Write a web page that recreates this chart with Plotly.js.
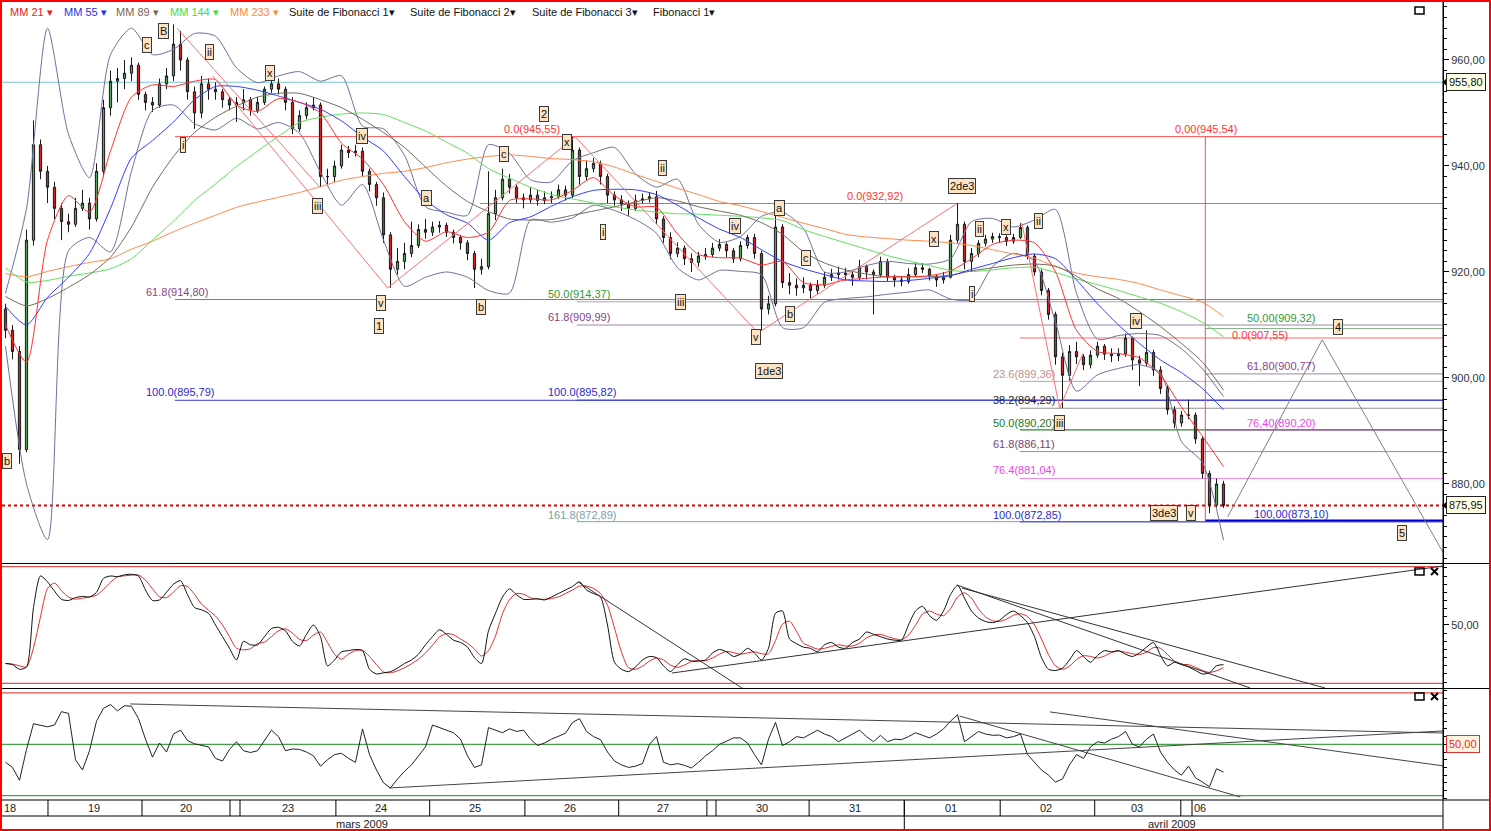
<!DOCTYPE html>
<html><head><meta charset="utf-8">
<script src="https://cdn.plot.ly/plotly-3.0.1.min.js"></script>
<style>
html,body{margin:0;padding:0;background:#fff;}
#chart{width:1487px;height:827px;border:2px solid #f00;}
</style></head><body><div id="chart"></div>
<script>
// ---------- DATA ----------
// 45-minute candles, bar index 0..174
const firstOpen = 913;
const closeP = [
909,905,886.5,926,944,939,936,932,929.5,929,
932,933,930,939,951,956,956.5,957.5,959,953.5,
952,951.5,955.5,957,963,960,954,950,955.5,954.5,
954,952.5,951.5,952,952.5,950.5,952,954.5,955.5,954.5,
952,947,949.5,951,951.5,938,938,940,943,942.5,
942.8,939,936.5,934,927,920.5,922,923.5,925,928,
927.5,928.5,928.8,927.5,926.5,925.5,923.5,920.5,921,931,
934,937.5,936,934,933.6,934.5,933.5,934,934.2,935.5,
934.5,943,938,939.5,940.5,938,934.5,933.6,932.8,932,
933.5,933.8,934.2,930,926.5,923.5,924.5,922.5,921.8,923,
923.3,924.5,925.2,924,922.5,925,926.5,923.5,913,914,
928.5,918,917.5,917,917.5,916.5,917.5,919,919.5,919.8,
919.5,919,921,920,919.5,922,919,918.5,918.2,919.5,
920.8,920.5,919.2,918.5,919,926,929,922,923.5,925.4,
926.2,926.7,926.5,925.8,926.5,928.4,923,920,916.5,912,
904,900.5,905,904,902.5,904.3,906,904.5,904.2,904.6,
907.5,903.4,902.8,904.8,901.5,898,894,891.5,893,893,
888.5,882,876,880,875.95];
const highP = [
914,910,906,928,948.6,945,940,937,933,931,
934,935.5,934,940.5,952.5,958,958.5,960,960.5,959.5,
954,953,956.5,958.5,966.7,965.5,960.5,955,957,956.5,
955.8,954.5,953,953,954.5,953,953,955,956.5,956.5,
955,953,950.5,952,953,952,939.5,941,944,943.8,
944,943.5,939.5,937,935,927.5,924.5,925.5,929.5,929,
930,929.5,929.6,929.3,928,927,926,924,922.5,939,
935.5,939.5,938.5,936.5,934.8,936,935.5,935.2,935.2,936.5,
936.3,945.5,943.5,941,941.5,941,938.5,935.2,934.5,933.5,
934.6,934.8,935,935.3,930.5,927.5,925.6,925,923.5,923.8,
924.5,925.5,926.2,925.6,924.5,925.8,927,927.2,924,915.5,
932.3,929,919.8,918.8,919,918,918.5,920,920.6,921,
920.8,920.2,922.3,921.4,920.5,922.9,922.5,919.5,919.2,920.7,
921.6,921.7,920.8,919.6,920,927,933,929.5,924.5,926,
927,927.4,927.3,926.9,927.2,929.2,928.8,923.4,920.5,917,
912.5,904.8,906.2,906.8,904.5,905.2,906.8,906.4,905.6,905.6,
908.4,907.8,904.2,909,905.3,902.2,898.6,894.7,893.8,895.9,
893.5,889,882.5,881,880.6];
const lowP = [
907.5,903.5,883.8,886,925,937.5,933,930,926,927.5,
928.5,931.5,928,929.5,938,949.5,952,954.5,956,952.5,
950.5,950.2,951,954.5,956,958,952.5,947,949,952.5,
952.5,951,950.5,948.3,950.5,949.5,950,951.5,953.8,953.5,
950.5,946,946.5,948.8,950.5,936,936.5,937,939.5,941.5,
941.8,938,935.2,932.5,925.5,917,919.5,920.5,922.8,924.5,
926.3,926.8,927.4,926.6,925.4,924.2,922.2,917,919.5,920.5,
929.8,933.5,934.8,933,932,933,932.5,932.8,933,933.8,
933.5,934,936.5,937.3,938.8,936.5,933,932.5,931.5,930.6,
931.5,932.9,933.1,929,925.5,922.4,922.8,921.3,920,921,
922.3,922.8,923.9,922.8,921.7,922,924.4,922.5,909,912,
913.5,917,915.8,915.5,916,915,915.8,917,918.3,918.6,
918.4,917.4,918.5,918.6,912,919,918.3,917.2,917.3,917.8,
919.2,919.8,918.4,917.2,917.8,918.8,925.5,920.5,920,922.8,
924.8,925.5,925.6,924.9,925.3,926.2,922.4,919.3,915.6,911,
902.5,894.3,899.5,902.6,901.5,901.8,903.8,903.4,903,903.2,
904,901.5,898.5,902.2,900.4,897,893.1,890.5,890.8,892.2,
887.6,881,874.5,875.5,875.5];

// moving averages and Bollinger bands, sampled every 3 bars
const MA_STEP = 3;
const ma21 = [910,903,926,934.4,931.3,942.8,953,955.3,955,956,
956.3,951.5,950.3,952.7,952,950,944.3,941.3,936.5,929.5,
925.8,927.6,926.5,927.5,933.5,933.8,933.6,935.4,937.8,934.4,
932.3,932.2,927.2,923.3,922.7,922.6,921.3,922,918,917.6,
918.5,918.8,919.1,919.1,919.3,920.2,922.5,925.2,926,925.5,
920,909,905,904.6,903.8,900.5,894.5,889,883.3];
const ma55 = [913.5,910,915.2,919,923.5,932,941.5,944.8,948.3,952.5,
955,955,954.3,953.2,952,950.7,948.5,945.5,942.8,938,
933.6,930.8,929.2,926,929.3,930.4,932.4,934.2,935.4,935.6,
935.5,934.6,932.6,930.2,928.1,926.5,924.2,922,920.6,919.5,
918.5,918.3,918.2,918.4,918.8,919.3,920.5,921.6,922.7,923.4,
922.5,918.5,914,910,906.5,903.4,901,898,894];
const ma89 = [915.4,913.6,915,917.1,919.5,922.8,928.5,936,941.8,946.3,
949.2,951.3,953,953.7,953.7,952.5,951,948.8,946.3,943.5,
939.8,936.2,933.3,931.4,930,929.8,929.9,930.7,931.5,932.3,
933.2,934,933.4,932.3,931.5,930.7,929.3,927.1,923.8,921.7,
920.4,919.6,919.1,919.1,919.1,919.4,920.2,920.8,921.3,921.5,
921.1,919.2,916.8,915,912.5,909.7,906.5,903,897.7];
const ma144 = [920.8,918.1,918.4,919.2,919.8,920.6,922.5,926,929.6,933.5,
936.6,939.9,942.8,945.6,948.2,949.2,949.8,950,949.7,948.2,
946.6,944.5,942.4,939.5,937.7,936,934.6,933.8,933,932.3,
931.7,931.3,931,930.9,930.7,930.5,930.2,929.7,928,926.7,
925.5,924.3,923.1,922.1,921.2,920.3,920.1,920.4,920.8,920.9,
919.9,918.7,917.6,916.5,915.3,914.1,912.5,910.5,907.8];
const ma233 = [919.7,919.1,920.1,921,921.8,922.5,924.3,925.8,927.6,929.2,
930.7,932.2,933.2,934.1,935,936.1,937.3,938,938.6,939,
939.7,940.6,941.3,941.8,942.1,941.8,941.4,941.2,940.8,939.8,
938.4,937.1,935.8,934.6,933.3,932.5,931.4,930.3,929.2,928.2,
927.1,926.6,926.3,926,925.8,925.5,925,924.2,923.4,922.6,
921,919.8,919.1,918.6,917.8,916.6,915.5,914.3,911.6];
const bbUp = [916,932,966,946,937.8,961,966,961,962,965,
964.5,958.5,955.7,957,957.8,956,957,947.5,947,942,
932.3,931.3,930.7,944,942.4,937.4,937,941,942.5,943.5,
938.5,936,937.5,929,925.6,926.7,930.5,931.3,928.2,920,
920,921.2,922,921.6,921.5,922.5,929.5,930.1,928.5,929.8,
931.8,916,907.3,908,908.4,908,905.5,901.7,896.5];
const bbLow = [906,880,869.5,924,926.5,923.8,939,950.5,951.5,948,
946.8,949,947,948.2,946.2,938.8,932.6,936.5,926,917.3,
919,920,919,916.5,916,929.8,929.4,930.2,932.6,931.6,
929.9,927.3,920.8,918.5,920.3,920.1,919.5,909.5,909.5,914.3,
915,915.3,915.8,916.2,916.6,914.9,914.8,921,923.5,922,
910.5,897.5,900.6,901.8,902.5,900.9,888,884,869.4];

// stochastic %K and RSI, one value per bar
const stochK = [17,16,12,14,65,92,87,79,72,71,
73.5,74.5,74,78,90,92,91.5,93,93.5,92,
80,71,71.5,78,85,88,76,65,63,60,
50,40,30,20,36,33,33,40,47,48,
45,36,32,42,50,40,15,20,27,28,
29,28,12,8,9,10,13,17,20,25,
33,40,46,42,37,35,31,22,17,45,
60,74,81,76,72,72,72.5,71.5,74,77,
80,83,87,80,77,74,50,18,12,10,
14,20,23,22,15,10,16,21,19,19,
20,26,29,27,23,25,30,26,20,30,
60,62,38,34,31,30,27,33,35,31,
30,35,38,44,42,40,38,37,37,50,
62,66,58,54,62,76,84,73,62,56,
53,52,54,59,62,58,52,40,22,12,
11,13,20,28,23,18,24,28,27,28,
25,23,26,31,35,24,15,18,16,14,
11,8,9,15,16];
const rsi = [43,41,36,48,58,57.5,56.8,57.5,62.7,62,
44,40,47.5,59,64,65.5,63,65,64.8,60,
52,45,50.5,47,54,55.5,51.5,50.2,49.5,49,
44.5,43.5,48,51,47.5,46.8,47.5,51.5,55.5,53,
47.5,48.2,48,47,45.5,41.5,44,46,46.5,44.5,
43,56,46,40,35,33,36.5,39.5,42,45.5,
49,57.5,56.5,55.5,54.5,52,45.5,41,42,56.5,
55.5,54.5,56,55,55.5,52,49.5,50.5,52,53,
54.3,58.5,60,55,53,51.8,47,43.5,42,41,
41.5,42.5,50,53,43,42,42.5,41.8,40.8,43,
45.5,47.5,50,51.2,52.5,52.5,50.5,46,42,52,
58.5,49.5,51,53,52.5,54,55.5,54,53,51,
52.5,54,55.5,53,51,53.5,51,52,51.8,53,
54.5,53.5,52.5,54,56,59,61.5,51,53,55,
54,53.5,53.6,52.5,53,54,46,43,40,38,
35.3,36.5,42,46,44.5,49,51,50.5,52,53,
55,50,49,52,54,47,43,40,38,41.5,
37,35.3,33.5,40.5,39.2];

// reference levels
const refLevel = 955.80;
const lastPrice = 875.95;

// Fibonacci levels: value, ratio text, start bar, label bar
const fibLevels = [945.55,914.80,895.79,865.04, 914.37,909.99,895.82,872.89, 932.92,
  907.55,899.36,894.29,890.20,886.11,881.04,872.85, 945.54,909.32,900.77,890.20,873.10];
const fibRatios = ['0.0','61.8','100.0','161.8', '50.0','61.8','100.0','161.8', '0.0',
  '0.0','23.6','38.2','50.0','61.8','76.4','100.0', '0,00','50,00','61,80','76,40','100,00'];
const fibStart = [24.2,24.2,24.2,24.2, 81.6,81.6,81.6,81.6, 67.8,
  144.9,144.9,144.9,144.9,144.9,144.9,144.9, 171.4,171.4,171.4,171.4,171.4];
const fibLabelX = [70.9,19.8,19.8,19.8, 77.2,77.2,77.2,77.2, 119.9,
  174.9,140.8,140.8,140.8,140.8,140.8,140.8, 166.8,177.1,177.1,177.1,178.1];
const fibTextColor = ['#ff3333','#884488','#2a2acc','#78a2a2', '#339933','#884488','#2a2acc','#78a2a2', '#ff3333',
  '#ff3333','#c09090','#222222','#227722','#774477','#ee44ee','#2a2acc', '#ff3333','#339933','#884488','#ee44ee','#2a2acc'];
const fibLineColor = ['#ff5a5a','#9966aa','#3a3ad8','#7aa5a5', '#a8a8a8','#9a8aa8','#3a3ad8','#7aa5a5', '#ff5a5a',
  '#ff6a6a','#c8a0a0','#909090','#006600','#9a8a9a','#ee88ee','#3a3ad8', '#ff5a5a','#88aa88','#9a8aaa','#cc33cc','#0000cc'];
const fibLabelShift = [8,8,8,3, 8,8,8,7, 8, 3,7,8,7,8,8,7, 8,11,8,7,7];

// Elliott-wave labels
const waveTexts = ['c','B','ii','x','i','iii','iv','v','1','a','b','2','c','x','ii','i','iii','iv','v',
  'a','b','c','1de3','x','2de3','ii','x','ii','i','iv','iii','3de3','v','4','5'];
const waveX = [20.2,22.6,29.1,37.8,25.4,44.6,50.9,53.6,53.4,60.2,67.9,76.9,71.2,80.2,93.8,85.4,96.4,104.2,107.2,
  110.6,112.1,114.4,109.1,132.6,136.6,139.2,142.9,147.6,138.1,161.5,150.5,165.5,169.4,190.4,199.5];
const waveY = [962.8,965.5,961.5,957.5,944,932.5,945.7,914.2,909.8,934,913.4,949.8,942.3,944.5,939.6,927.5,914.3,928.7,907.7,
  932.1,912.1,922.6,901.3,926.2,936.2,928.1,928.5,929.6,915.8,910.8,891.5,874.5,874.5,909.6,870.8];
const edgeWaveText = 'b', edgeWaveY = 884.3;

// wave / trend lines
const waveLinesX = [[24.5,44.9],[29.6,54.6],[54.6,81.4],[81.4,107.5],[107.5,135.9],[145.2,150.6,153.9]];
const waveLinesY = [[966,936],[957,917],[917,945.5],[945.5,908.5],[908.5,932.9],[929.2,894.3,904.6]];
const projX = [174.6,188.1,205.4], projY = [873.8,907.2,867];
const stochTrendX = [[81.8,105.2],[95.2,205.4],[135.9,177.8],[136.6,188.5]];
const stochTrendY = [[86.9,-4],[8.8,100.6],[84.3,-4],[81.7,-4]];
const rsiTrendX = [[17.8,205.4],[54.8,205.4],[136.3,176.4],[149.2,205.4]];
const rsiTrendY = [[65.7,54.4],[33,55.2],[61,29.5],[62.6,41.6]];

// time axis
const dayBounds = [6.07,19.5,32.07,33.5,47.2,60.6,74.2,87.6,100.2,101.5,114.8,128.4,142.1,155.6,167.9,169.5];
const dayLabels = ['19','20','23','24','25','26','27','30','31','01','02','03','06'];
const dayLabelX = [12.6,25.8,40.3,53.6,67.1,80.6,93.9,108.1,121.4,135.1,148.6,161.6,170.6];
const firstDayLabel = '18';
const monthLabels = ['mars 2009','avril 2009'];
const monthLabelX = [50.9,166.6];
const monthBound = 128.4;

const legendItems = ['MM 21 \u25BE','MM 55 \u25BE','MM 89 \u25BE','MM 144 \u25BE','MM 233 \u25BE',
  'Suite de Fibonacci 1\u25BE','Suite de Fibonacci 2\u25BE','Suite de Fibonacci 3\u25BE','Fibonacci 1\u25BE'];

// ---------- STYLE / LAYOUT ----------
const FONT = 'Liberation Sans, Arial, Helvetica, sans-serif';
const X_RANGE = [-0.5, 205.357];
const legendColors = ['#ee2020','#2233dd','#7a6650','#44dd44','#ff8a3a','#111','#111','#111','#111'];
const legendPx = [8,62,114,168,228,287,408,530,651];
const maColors = {ma21:'#ff3030', ma55:'#2f3cff', ma89:'#76695a', ma144:'#5ee05e', ma233:'#ff8a4a'};
const pxX = px => (px - 2) / 1441;       // decoration helpers (page px -> paper)
const pyY = py => (799 - py) / 797;

const xBar = closeP.map((_, i) => i);
const openP = closeP.map((c, i) => i === 0 ? firstOpen : closeP[i - 1]);
const xMA = ma21.map((_, i) => i * MA_STEP);
const stochD = stochK.map((v, i) => {
  const a = stochK.slice(Math.max(0, i - 2), i + 1);
  return a.reduce((s, x) => s + x, 0) / a.length;
});

const traces = [];
function line(x, y, color, width, yaxis, shape) {
  traces.push({type:'scatter', mode:'lines', x:x, y:y, yaxis:yaxis, xaxis:'x', hoverinfo:'skip',
    line:{color:color, width:width, shape:shape || 'linear', smoothing:0.7}});
}
line(xMA, bbUp, '#6f6f9c', 1, 'y', 'spline');
line(xMA, bbLow, '#6f6f9c', 1, 'y', 'spline');
line(xMA, ma233, maColors.ma233, 1, 'y', 'spline');
line(xMA, ma144, maColors.ma144, 1, 'y', 'spline');
line(xMA, ma89, maColors.ma89, 1, 'y', 'spline');
line(xMA, ma55, maColors.ma55, 1, 'y', 'spline');
line(xMA, ma21, maColors.ma21, 1, 'y', 'spline');
waveLinesX.forEach((xs, i) => line(xs, waveLinesY[i], '#ff7070', 1, 'y'));
line(projX, projY, '#808080', 1, 'y');
traces.push({type:'candlestick', x:xBar, open:openP, high:highP, low:lowP, close:closeP,
  xaxis:'x', yaxis:'y', hoverinfo:'skip', whiskerwidth:0,
  increasing:{line:{color:'#1a1a1a', width:1}, fillcolor:'#5aa35a'},
  decreasing:{line:{color:'#1a1a1a', width:1}, fillcolor:'#cc2626'}});
line(xBar, stochD, '#e03030', 1, 'y2', 'spline');
line(xBar, stochK, '#111111', 1, 'y2', 'spline');
stochTrendX.forEach((xs, i) => line(xs, stochTrendY[i], '#333', 1, 'y2'));
line(xBar, rsi, '#222222', 1, 'y3');
rsiTrendX.forEach((xs, i) => line(xs, rsiTrendY[i], '#444', 1, 'y3'));

const shapes = [];
function seg(o) { shapes.push(Object.assign({type:'line', layer:'below'}, o)); }
// fib lines
fibLevels.forEach((lv, i) => seg({xref:'x', yref:'y', x0:fibStart[i], x1:X_RANGE[1], y0:lv, y1:lv,
  line:{color:fibLineColor[i], width: i === fibLevels.length - 1 ? 2 : 1}}));
// vertical retracement line
seg({xref:'x', yref:'y', x0:fibStart[16], x1:fibStart[16], y0:fibLevels[20], y1:fibLevels[16], line:{color:'#ff4a4a', width:1}});
seg({xref:'paper', yref:'y', x0:0, x1:1, y0:refLevel, y1:refLevel, line:{color:'#7cc7d2', width:1}});
seg({xref:'paper', yref:'y', x0:0, x1:1, y0:lastPrice, y1:lastPrice, line:{color:'#e00000', width:2, dash:'dot'}});
// oscillator levels
[100, 0].forEach(v => seg({xref:'paper', yref:'y2', x0:0, x1:1, y0:v, y1:v, line:{color:'#e02020', width:1}}));
seg({xref:'paper', yref:'y3', x0:0, x1:1, y0:70, y1:70, line:{color:'#e02020', width:1}});
[50, 30].forEach(v => seg({xref:'paper', yref:'y3', x0:0, x1:1, y0:v, y1:v, line:{color:'#1a8a1a', width:1}}));
// panel separators and axis frame
[563.5, 688.5, 800].forEach(py => seg({xref:'paper', yref:'paper', x0:pxX(0), x1:pxX(1489), y0:pyY(py), y1:pyY(py),
  line:{color:'#000', width:1}, layer:'above'}));
seg({xref:'paper', yref:'paper', x0:0, x1:1, y0:pyY(816), y1:pyY(816), line:{color:'#000', width:1}, layer:'above'});
seg({xref:'paper', yref:'paper', x0:1, x1:1, y0:pyY(831), y1:1, line:{color:'#000', width:1}, layer:'above'});
dayBounds.forEach(b => seg({xref:'x', yref:'paper', x0:b, x1:b, y0:pyY(800), y1:pyY(816), line:{color:'#000', width:1}, layer:'above'}));
seg({xref:'x', yref:'paper', x0:monthBound, x1:monthBound, y0:pyY(800), y1:pyY(831), line:{color:'#000', width:1}, layer:'above'});
// window icons
[[7,14],[568,575],[693,700]].forEach((r, i) => {
  shapes.push({type:'rect', xref:'paper', yref:'paper', x0:pxX(1415), x1:pxX(1424), y0:pyY(r[1]), y1:pyY(r[0]),
    line:{color:'#000', width:1.5}, fillcolor:'rgba(0,0,0,0)'});
  if (i > 0) {
    seg({xref:'paper', yref:'paper', x0:pxX(1431), x1:pxX(1438), y0:pyY(r[0]), y1:pyY(r[1]), line:{color:'#000', width:2}, layer:'above'});
    seg({xref:'paper', yref:'paper', x0:pxX(1431), x1:pxX(1438), y0:pyY(r[1]), y1:pyY(r[0]), line:{color:'#000', width:2}, layer:'above'});
  }
});
// pointer triangles for price boxes
[refLevel, lastPrice].forEach(v => shapes.push({type:'path', xref:'paper', yref:'y',
  path:`M 1 ${v} L 1.0028 ${v + 0.7} L 1.0028 ${v - 0.7} Z`, fillcolor:'#000', line:{color:'#000', width:1}}));

const ann = [];
legendItems.forEach((t, i) => ann.push({xref:'paper', yref:'paper', x:pxX(legendPx[i]), y:pyY(12), xanchor:'left', yanchor:'middle',
  text:t, showarrow:false, font:{family:FONT, size:11, color:legendColors[i]}}));
fibLevels.forEach((lv, i) => ann.push({xref:'x', yref:'y', x:fibLabelX[i], y:lv, xanchor:'left', yanchor:'middle',
  yshift: fibLabelShift[i], text:`${fibRatios[i]}(${lv.toFixed(2).replace('.', ',')})`, showarrow:false,
  font:{family:FONT, size:11, color:fibTextColor[i]}}));
const waveBox = {showarrow:false, bgcolor:'#fbe3c3', bordercolor:'#3a3a3a', borderwidth:1, borderpad:1,
  xanchor:'center', yanchor:'middle', font:{family:FONT, size:11, color:'#111'}};
waveTexts.forEach((t, i) => ann.push(Object.assign({xref:'x', yref:'y', x:waveX[i], y:waveY[i], text:t}, waveBox)));
ann.push(Object.assign({}, waveBox, {xref:'paper', yref:'y', x:0, xanchor:'left', y:edgeWaveY, text:edgeWaveText}));
const axisFont = {family:FONT, size:11, color:'#222'};
dayLabels.forEach((t, i) => ann.push({xref:'x', yref:'paper', x:dayLabelX[i], y:pyY(808), xanchor:'center', yanchor:'middle',
  text:t, showarrow:false, font:axisFont}));
ann.push({xref:'paper', yref:'paper', x:0, y:pyY(808), xanchor:'left', yanchor:'middle', text:firstDayLabel,
  showarrow:false, font:axisFont});
monthLabels.forEach((t, i) => ann.push({xref:'x', yref:'paper', x:monthLabelX[i], y:pyY(823.5), xanchor:'center', yanchor:'middle',
  text:t, showarrow:false, font:axisFont}));
const fmt = v => v.toFixed(2).replace('.', ',');
[refLevel, lastPrice].forEach(v => ann.push({xref:'paper', yref:'y', x:pxX(1446), y:v, xanchor:'left', yanchor:'middle',
  text:fmt(v), showarrow:false, bgcolor:'#ffffe6', bordercolor:'#222', borderwidth:1, borderpad:2,
  font:{family:FONT, size:11, color:'#111'}}));
ann.push({xref:'paper', yref:'y3', x:pxX(1446), y:50, xanchor:'left', yanchor:'middle', text:fmt(50), showarrow:false,
  bgcolor:'#fff3e2', bordercolor:'#e03030', borderwidth:1, borderpad:2, font:{family:FONT, size:11, color:'#e03030'}});

const yBase = {side:'right', anchor:'x', showline:true, linecolor:'#000', linewidth:1, ticks:'outside', ticklen:5,
  tickcolor:'#000', showgrid:false, zeroline:false, fixedrange:true, tickformat:'.2f',
  tickfont:{family:FONT, size:11, color:'#333'}};
const layout = {
  width:1487, height:827, margin:{l:0, r:46, t:0, b:30, pad:0},
  paper_bgcolor:'#fff', plot_bgcolor:'#fff', showlegend:false, separators:', ',
  font:{family:FONT, size:11, color:'#222'}, hovermode:false, boxgap:0.55,
  xaxis:{range:X_RANGE, showticklabels:false, ticks:'', showgrid:false, zeroline:false, showline:false,
    rangeslider:{visible:false}, anchor:'y3', fixedrange:true},
  yaxis:Object.assign({}, yBase, {domain:[0.29611, 1], range:[865.09, 970.94], dtick:20, tick0:0,
    minor:{dtick:2, tick0:0, ticklen:3, ticks:'outside', tickcolor:'#000'}}),
  yaxis2:Object.assign({}, yBase, {domain:[0.13927, 0.29486], range:[-4.03, 102.3], tickmode:'array', tickvals:[50],
    minor:{dtick:7, tick0:50, ticklen:3, ticks:'outside', tickcolor:'#000'}}),
  yaxis3:Object.assign({}, yBase, {domain:[0, 0.13802], range:[28.72, 71.52], tickmode:'array', tickvals:[50],
    showticklabels:false, minor:{dtick:3, tick0:50, ticklen:3, ticks:'outside', tickcolor:'#000'}}),
  shapes:shapes, annotations:ann
};
Plotly.newPlot('chart', traces, layout, {staticPlot:true, displayModeBar:false});
</script></body></html>
